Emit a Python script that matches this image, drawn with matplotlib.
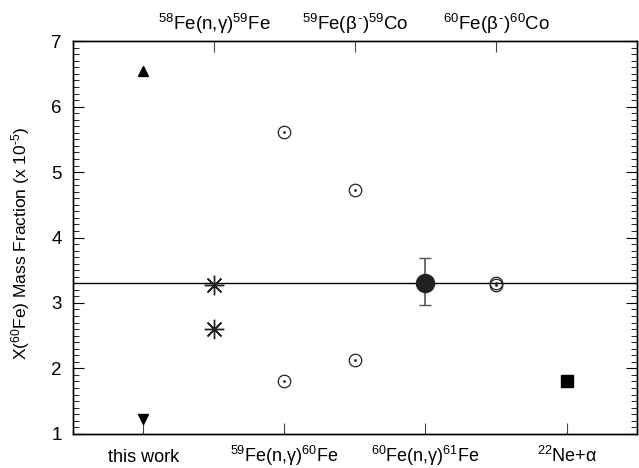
import matplotlib
matplotlib.use('Agg')
import matplotlib.pyplot as plt
from matplotlib.ticker import MultipleLocator

plt.rcParams['font.family'] = ['Liberation Sans', 'DejaVu Sans']
plt.rcParams['mathtext.fontset'] = 'custom'
plt.rcParams['mathtext.rm'] = 'Liberation Sans'
plt.rcParams['mathtext.it'] = 'Liberation Sans'

# category positions along x
bottom_pos = [0, 2, 4, 6]
bottom_labels = ['this work', r'$^{59}$Fe(n,$\gamma$)$^{60}$Fe',
                 r'$^{60}$Fe(n,$\gamma$)$^{61}$Fe', r'$^{22}$Ne+$\alpha$']
top_pos = [1, 3, 5]
top_labels = [r'$^{58}$Fe(n,$\gamma$)$^{59}$Fe', r'$^{59}$Fe($\beta^{\text{-}}$)$^{59}$Co',
              r'$^{60}$Fe($\beta^{\text{-}}$)$^{60}$Co']

# values (x 1e-5)
baseline = 3.30
this_work_up = 6.55
this_work_down = 1.22
fe58_x = [1, 1]
fe58_y = [3.28, 2.60]
open_x = [2, 2, 3, 3, 5, 5]
open_y = [5.61, 1.80, 4.72, 2.13, 3.31, 3.27]
fe60ng_y = 3.30
fe60ng_err_lo = 0.33
fe60ng_err_hi = 0.38
ne22_y = 1.80

fig, ax = plt.subplots(figsize=(6.39, 4.68), dpi=100)
fig.subplots_adjust(left=0.114, right=0.997, bottom=0.073, top=0.912)

ax.axhline(baseline, color='black', lw=1.0, zorder=1)

ax.plot(0, this_work_up, marker='^', color='black', ms=7, ls='none')
ax.plot(0, this_work_down, marker='v', color='black', ms=7, ls='none')

ax.plot(fe58_x, fe58_y, marker=(8, 2, 0), color='#222222', ms=14, mew=1.0, ls='none')

ax.plot(open_x, open_y, marker='o', mfc='none', mec='#222222', ms=9, mew=0.9, ls='none')
ax.plot(open_x, open_y, marker='.', color='#222222', ms=2, ls='none')

ax.errorbar(4, fe60ng_y, yerr=[[fe60ng_err_lo], [fe60ng_err_hi]], fmt='o', color='#222222',
            ms=13, ecolor='#555555', elinewidth=1.2, capsize=4, capthick=1.0, zorder=3)

ax.plot(6, ne22_y, marker='s', color='black', ms=8, ls='none')

ax.set_xlim(-1, 7)
ax.set_ylim(1, 7)
ax.set_xticks(bottom_pos)
ax.set_xticklabels(bottom_labels, fontsize=13, va='baseline')
ax.yaxis.set_major_locator(MultipleLocator(1))
ax.yaxis.set_minor_locator(MultipleLocator(0.1))
ax.tick_params(axis='y', which='major', direction='in', length=8, labelsize=13.5,
               right=True, width=0.8, pad=8)
ax.tick_params(axis='y', which='minor', direction='in', length=4, right=True, width=0.6)
ax.tick_params(axis='x', direction='in', length=8, width=0.8, pad=20, color='#444444')
ax.set_ylabel(r'X($^{60}$Fe) Mass Fraction (x 10$^{\text{-5}}$)', fontsize=12.5)
ax.yaxis.set_label_coords(-0.073, 0.485)

ax2 = ax.twiny()
ax2.set_xlim(ax.get_xlim())
ax2.set_xticks(top_pos)
ax2.set_xticklabels(top_labels, fontsize=13.5, va='baseline')
ax2.tick_params(axis='x', direction='in', length=8, width=0.8, pad=8, color='#444444')

for a in (ax, ax2):
    for s in a.spines.values():
        s.set_linewidth(1.0)

fig.savefig('out.png', dpi=100)
